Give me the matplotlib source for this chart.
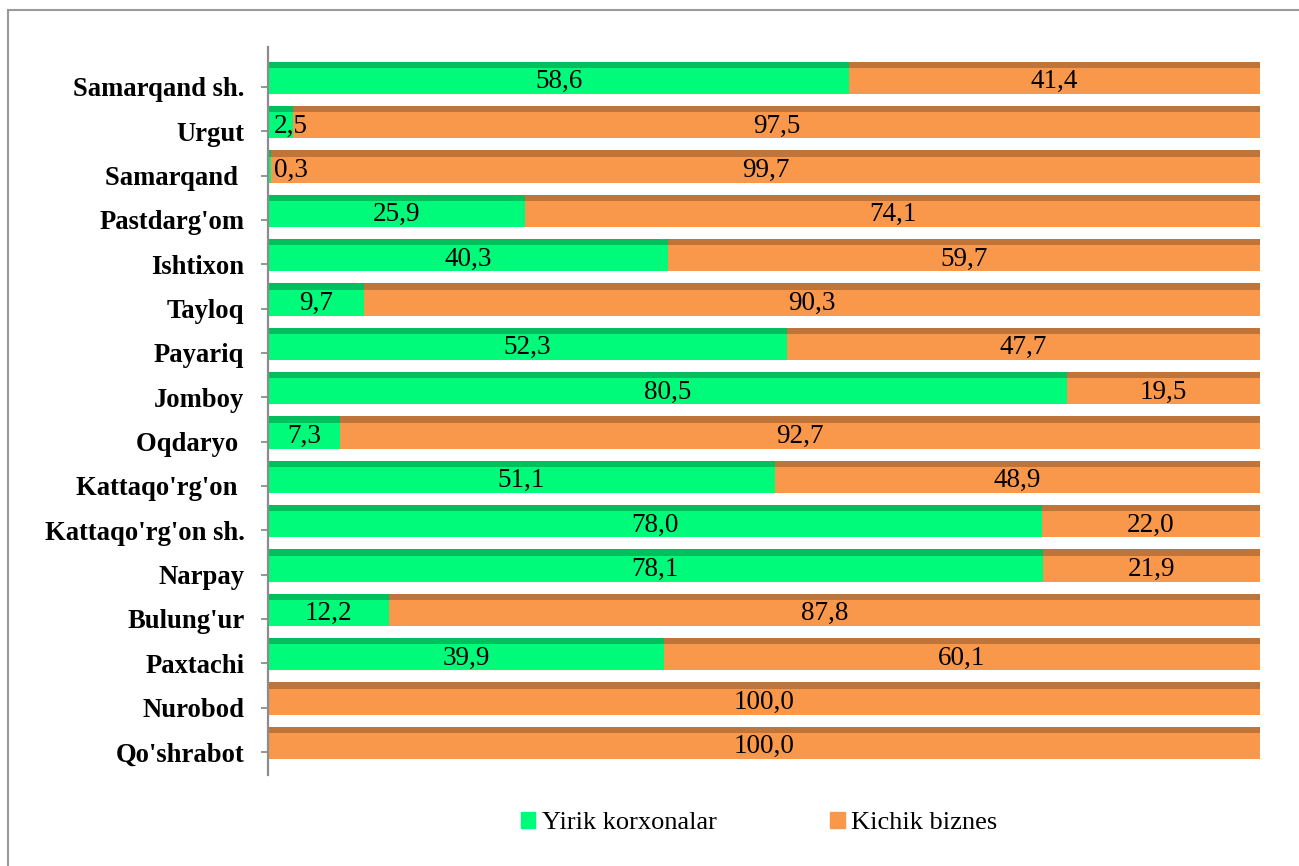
import matplotlib
matplotlib.use("Agg")
import matplotlib.pyplot as plt
from matplotlib.patches import Patch, Rectangle

# hududlar va ulushlar (%)
regions = ["Samarqand sh.", "Urgut", "Samarqand ", "Pastdarg'om", "Ishtixon", "Tayloq",
           "Payariq", "Jomboy", "Oqdaryo ", "Kattaqo'rg'on ", "Kattaqo'rg'on sh.", "Narpay",
           "Bulung'ur", "Paxtachi", "Nurobod", "Qo'shrabot"]
yirik = [58.6, 2.5, 0.3, 25.9, 40.3, 9.7, 52.3, 80.5, 7.3, 51.1, 78.0, 78.1, 12.2, 39.9, 0.0, 0.0]
kichik = [41.4, 97.5, 99.7, 74.1, 59.7, 90.3, 47.7, 19.5, 92.7, 48.9, 22.0, 21.9, 87.8, 60.1, 100.0, 100.0]
legend_labels = ["Yirik korxonalar", "Kichik biznes"]

green, green_dark = "#00FA7A", "#00BF5C"
orange, orange_dark = "#F9984A", "#BF743A"
serif = ["Liberation Serif", "DejaVu Serif"]

fig = plt.figure(figsize=(12.99, 8.66), dpi=100)
W, H = 1299, 866
ax = fig.add_axes([268 / W, 1 - 775 / H, (1260 - 268) / W, (775 - 47) / H])

# ramka
fig.patches.append(Rectangle((8 / W, -0.05), 1.1, 1.05 - 10 / H, transform=fig.transFigure,
                             fill=False, edgecolor="#9a9a9a", linewidth=1.5, zorder=0))

y = list(range(len(regions)))
y_light = [v - 0.43 for v in y]
y_dark = [v - 0.57 for v in y]
ax.barh(y_light, yirik, height=0.59, align="edge", color=green, linewidth=0)
ax.barh(y_light, kichik, left=yirik, height=0.59, align="edge", color=orange, linewidth=0)
ax.barh(y_dark, yirik, height=0.14, align="edge", color=green_dark, linewidth=0)
ax.barh(y_dark, kichik, left=yirik, height=0.14, align="edge", color=orange_dark, linewidth=0)

for i in y:
    if yirik[i] > 0:
        ax.text(max(yirik[i] / 2, 2.3), i - 0.12, f"{yirik[i]:.1f}".replace(".", ","),
                ha="center", va="center", fontsize=19.5, family=serif)
    if kichik[i] > 0:
        ax.text(yirik[i] + kichik[i] / 2, i - 0.12, f"{kichik[i]:.1f}".replace(".", ","),
                ha="center", va="center", fontsize=19.5, family=serif)

ax.set_xlim(0, 100)
ax.set_ylim(15.52, -0.9)
ax.set_yticks(y)
ax.set_yticklabels(regions, fontsize=19.2, fontweight="bold", family=serif)
ax.set_xticks([])
for s in ["top", "right", "bottom"]:
    ax.spines[s].set_visible(False)
ax.spines["left"].set_color("#8c8c8c")
ax.spines["left"].set_linewidth(1.6)
ax.tick_params(axis="y", direction="out", length=5, width=1.3, color="#8c8c8c", pad=12)

handles = [Patch(color=green), Patch(color=orange)]
fig.legend(handles, legend_labels, loc="center", bbox_to_anchor=(759 / W, 1 - 823 / H),
           ncol=2, frameon=False, handlelength=0.55, handleheight=0.55, handletextpad=0.25,
           columnspacing=4.3, prop={"family": serif, "size": 19})

fig.savefig("out.png", dpi=100)
